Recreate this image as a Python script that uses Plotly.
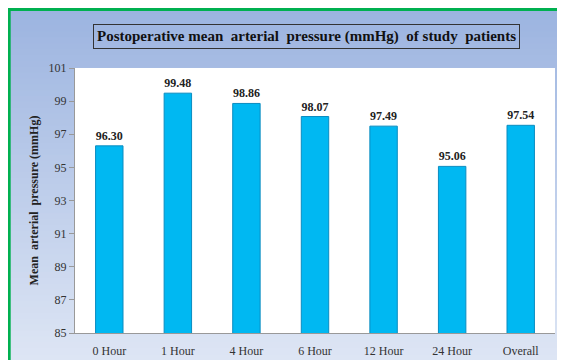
import plotly.graph_objects as go

categories = ["0 Hour", "1 Hour", "4 Hour", "6 Hour", "12 Hour", "24 Hour", "Overall"]
values = [96.30, 99.48, 98.86, 98.07, 97.49, 95.06, 97.54]
labels = ["96.30", "99.48", "98.86", "98.07", "97.49", "95.06", "97.54"]
y_ticks = [85, 87, 89, 91, 93, 95, 97, 99, 101]

# page body has an 8px margin: figure occupies screen px 8..557 x 8..360
W, H = 549, 352
SERIF = "Liberation Serif"
ml, mr, mt, mb = 67, 2, 60, 27
pw, ph = W - ml - mr, H - mt - mb

def fx(px):
    return (px - ml) / pw

def fy(py):
    return (H - mb - py) / ph

fig = go.Figure()
fig.add_trace(go.Bar(
    x=categories, y=values, text=["<b>%s</b>" % t for t in labels], textposition="outside",
    textfont=dict(family=SERIF, size=12, color="#222"),
    marker=dict(color="#00B8F2", line=dict(color="#0A8CC0", width=1)),
    cliponaxis=False,
))

shapes = []
top = (0x9C, 0xB4, 0xE0)
bot = (0xDD, 0xE5, 0xF4)
n = 60
for i in range(n):
    t = i / (n - 1)
    c = tuple(int(round(top[k] + (bot[k] - top[k]) * t)) for k in range(3))
    ya = i * H / n
    yb = (i + 1) * H / n + 1
    shapes.append(dict(type="rect", xref="paper", yref="paper", x0=fx(0), x1=fx(W),
                       y0=fy(yb), y1=fy(ya), fillcolor="rgb(%d,%d,%d)" % c,
                       line=dict(width=0), layer="below"))
shapes.append(dict(type="rect", xref="x domain", yref="y domain", x0=0, x1=1, y0=0, y1=1,
                   fillcolor="white", line=dict(width=0), layer="below"))
shapes.append(dict(type="line", xref="paper", yref="paper", x0=fx(0), x1=fx(W), y0=fy(1.5), y1=fy(1.5),
                   line=dict(color="#00B050", width=3)))
shapes.append(dict(type="line", xref="paper", yref="paper", x0=fx(1.2), x1=fx(1.2), y0=fy(H), y1=fy(0),
                   line=dict(color="#00B050", width=3)))

fig.update_layout(
    width=W, height=H,
    margin=dict(l=ml, r=mr, t=mt, b=mb),
    paper_bgcolor="white",
    plot_bgcolor="rgba(0,0,0,0)",
    showlegend=False,
    bargap=0.6,
    shapes=shapes,
    font=dict(family=SERIF, size=12, color="#333"),
    annotations=[dict(
        text="<b>Postoperative mean  arterial  pressure (mmHg)  of study  patients</b>",
        xref="paper", yref="paper", x=fx(298), y=fy(28),
        xanchor="center", yanchor="middle", showarrow=False,
        font=dict(family=SERIF, size=15, color="#111"),
        bordercolor="#333", borderwidth=1, borderpad=3,
    )],
)
fig.update_xaxes(showline=True, linecolor="#999", linewidth=1, ticks="outside",
                 ticklen=7, tickcolor="rgba(0,0,0,0)",
                 tickfont=dict(family=SERIF, size=12, color="#333"))
fig.update_yaxes(range=[85, 101], tickvals=y_ticks, showgrid=False, zeroline=False,
                 showline=True, linecolor="#999", linewidth=1, ticks="outside",
                 ticklen=5, tickcolor="#999",
                 tickfont=dict(family=SERIF, size=12, color="#333"),
                 title=dict(text="<b>Mean  arterial  pressure (mmHg)</b>",
                            font=dict(family=SERIF, size=12, color="#222"), standoff=7))
fig.write_html("out.html")
